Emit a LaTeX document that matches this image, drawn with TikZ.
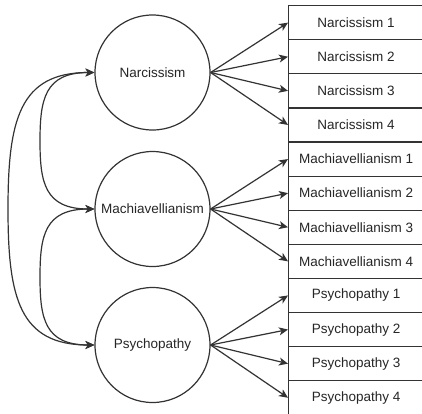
\documentclass[tikz,border=0pt]{standalone}
\usepackage{fontspec}
\setmainfont{Liberation Sans}
\usetikzlibrary{arrows.meta}
\begin{document}
\begin{tikzpicture}[x=1pt,y=-1pt,
  line width=1.2pt,
  every node/.style={font=\fontsize{13.5}{16}\selectfont, text=black!85},
  latent/.style={circle, draw=black!80, minimum size=115pt, inner sep=0pt},
  item/.style={rectangle, draw=black!80, minimum width=135pt, minimum height=34.1pt, inner sep=0pt, anchor=north west},
  tip/.style={-{Stealth[length=9pt,width=8pt,inset=2.5pt]}, draw=black!80},
  cov/.style={{Stealth[length=9pt,width=8pt,inset=2.5pt]}-{Stealth[length=9pt,width=8pt,inset=2.5pt]}, draw=black!80}]
\useasboundingbox (0,0) rectangle (422,413);
\fill[white] (0,0) rectangle (422,413);
\node[latent] (N) at (152.5,72.5) {Narcissism};
\node[latent] (M) at (152.5,209) {Machiavellianism};
\node[latent] (P) at (152.5,345) {Psychopathy};
\foreach \i/\t in {1/Narcissism 1,2/Narcissism 2,3/Narcissism 3,4/Narcissism 4,
  5/Machiavellianism 1,6/Machiavellianism 2,7/Machiavellianism 3,8/Machiavellianism 4,
  9/Psychopathy 1,10/Psychopathy 2,11/Psychopathy 3,12/Psychopathy 4}{
  \node[item] (b\i) at (288,{5+34.1*(\i-1)}) {\t};
}
\foreach \i in {1,2,3,4}{\draw[tip] (N.east) -- (b\i.west);}
\foreach \i in {5,6,7,8}{\draw[tip] (M.east) -- (b\i.west);}
\foreach \i in {9,10,11,12}{\draw[tip] (P.east) -- (b\i.west);}
\coordinate (o) at (8,209);
\coordinate (i1) at (40,141);
\coordinate (i2) at (40,277);
\draw[cov] (N.west) .. controls +(-75,0) and +(0,-89) .. (o) .. controls +(0,89) and +(-75,0) .. (P.west);
\draw[cov] (N.west) .. controls +(-50,0) and +(0,-41) .. (i1) .. controls +(0,41) and +(-50,0) .. (M.west);
\draw[cov] (M.west) .. controls +(-50,0) and +(0,-41) .. (i2) .. controls +(0,41) and +(-50,0) .. (P.west);
\end{tikzpicture}
\end{document}
